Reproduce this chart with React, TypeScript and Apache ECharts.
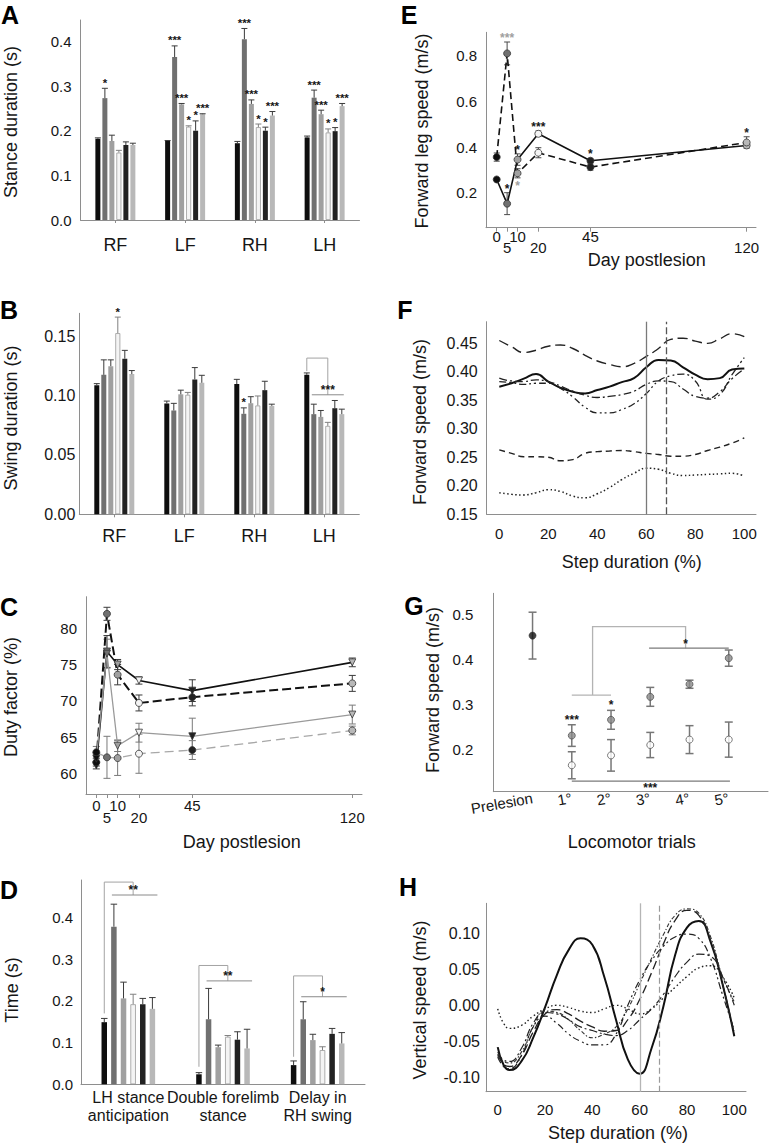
import React, { useEffect, useRef } from 'react';
import * as echarts from 'echarts';

const FONT = '"Liberation Sans", Arial, Helvetica, sans-serif';
const INK = '#161616';
const AXIS_GRAY = '#8e8e8e';

// time groups: prelesion, day 5, day 10, day 20, day 45, day 120
const timeColors = ['#0e0e0e', '#707070', '#a0a0a0', '#f4f4f4', '#222222', '#b8b8b8'];
const dayTicks = [0, 5, 10, 20, 45, 120];

// ---------- A: stance duration ----------
const limbs = ['RF', 'LF', 'RH', 'LH'];
const stanceTicks = [0, 0.1, 0.2, 0.3, 0.4];
const stanceMean = [
  [0.182, 0.177, 0.172, 0.185],
  [0.273, 0.365, 0.405, 0.274],
  [0.177, 0.259, 0.260, 0.237],
  [0.151, 0.209, 0.208, 0.196],
  [0.168, 0.200, 0.200, 0.199],
  [0.168, 0.237, 0.234, 0.255],
];
const stanceSem = [
  [0.002, 0.001, 0.004, 0.003],
  [0.022, 0.025, 0.024, 0.017],
  [0.013, 0.002, 0.009, 0.009],
  [0.005, 0.002, 0.007, 0.008],
  [0.007, 0.022, 0.008, 0.008],
  [0.004, 0.001, 0.009, 0.006],
];
const stanceStars = [
  ['', '', '', ''],
  ['*', '***', '***', '***'],
  ['', '***', '***', '***'],
  ['', '*', '*', '*'],
  ['', '*', '*', '*'],
  ['', '***', '***', '***'],
];

// ---------- B: swing duration ----------
const swingTicks = [0, 0.05, 0.1, 0.15];
const swingMean = [
  [0.1087, 0.0933, 0.1096, 0.1174],
  [0.1174, 0.0874, 0.0846, 0.0843],
  [0.1247, 0.1010, 0.0935, 0.0820],
  [0.1525, 0.1006, 0.0916, 0.0744],
  [0.1310, 0.1135, 0.1045, 0.0893],
  [0.1180, 0.1107, 0.0913, 0.0843],
];
const swingSem = [
  [0.0013, 0.0020, 0.0040, 0.0016],
  [0.0126, 0.0060, 0.0050, 0.0084],
  [0.0053, 0.0035, 0.0055, 0.0054],
  [0.0135, 0.0020, 0.0080, 0.0030],
  [0.0070, 0.0100, 0.0075, 0.0065],
  [0.0030, 0.0063, 0.0014, 0.0042],
];
const swingStars = [
  ['', '', '', ''],
  ['', '', '*', ''],
  ['', '', '', ''],
  ['*', '', '', ''],
  ['', '', '', ''],
  ['', '', '', ''],
];
const swingBrackets = [
  { cat: 3, fromBar: 0, startVal: 0.1205, topVal: 0.1315, dropBar: 3, lineVal: 0.1006, lineFromBar: 1, lineToBar: 5, stars: '***' },
];

// ---------- C: duty factor ----------
const dutyTicks = [60, 65, 70, 75, 80];
const dutyBlackSolid = [61.1, 76.8, 75.0, 72.8, 71.4, 75.3];
const dutyBlackSolidSem = [0.5, 2.2, 0.7, 0.5, 1.5, 0.6];
const dutyBlackDashed = [61.5, 82.0, 73.6, 69.7, 70.5, 72.4];
const dutyBlackDashedSem = [0.5, 0.9, 1.4, 1.1, 1.2, 1.1];
const dutyGraySolid = [62.0, 76.5, 63.8, 65.6, 65.1, 68.1];
const dutyGraySolidSem = [0.6, 2.0, 0.8, 1.3, 2.5, 1.3];
const dutyGrayDashed = [62.9, 62.2, 62.1, 62.7, 63.2, 65.9];
const dutyGrayDashedSem = [0.8, 2.9, 2.4, 2.7, 1.3, 0.6];

// ---------- D: interlimb timing ----------
const coordTasks = ['LH stance\nanticipation', 'Double forelimb\nstance', 'Delay in\nRH swing'];
const timeTicks = [0, 0.1, 0.2, 0.3, 0.4];
const coordMean = [
  [0.149, 0.024, 0.046],
  [0.378, 0.156, 0.156],
  [0.206, 0.089, 0.106],
  [0.192, 0.114, 0.082],
  [0.192, 0.107, 0.121],
  [0.181, 0.086, 0.098],
];
const coordSem = [
  [0.009, 0.004, 0.010],
  [0.054, 0.074, 0.042],
  [0.039, 0.005, 0.014],
  [0.024, 0.003, 0.008],
  [0.014, 0.019, 0.013],
  [0.027, 0.046, 0.026],
];
const coordStars = [
  ['', '', ''], ['', '', ''], ['', '', ''], ['', '', ''], ['', '', ''], ['', '', ''],
];
const coordBrackets = [
  { cat: 0, fromBar: 0, startVal: 0.170, topVal: 0.485, dropBar: 3, lineVal: 0.454, lineFromBar: 1, lineToBar: 5, stars: '**' },
  { cat: 1, fromBar: 0, startVal: 0.042, topVal: 0.285, dropBar: 3, lineVal: 0.248, lineFromBar: 1, lineToBar: 5, stars: '**' },
  { cat: 2, fromBar: 0, startVal: 0.066, topVal: 0.260, dropBar: 3, lineVal: 0.210, lineFromBar: 1, lineToBar: 5, stars: '*' },
];

// ---------- E: forward leg speed ----------
const legTicks = [0.2, 0.4, 0.6, 0.8];
const legSolid = [0.258, 0.152, 0.345, 0.458, 0.340, 0.407];
const legSolidSem = [0.004, 0.048, 0.025, 0.012, 0.010, 0.010];
const legSolidStars = ['', '*', '*', '***', '*', ''];
const legDashed = [0.356, 0.810, 0.285, 0.375, 0.312, 0.420];
const legDashedSem = [0.018, 0.050, 0.020, 0.022, 0.013, 0.025];
const legDashedStars = ['', '***', '*', '', '', '*'];
const legDashedStarBelow = [false, false, true, false, false, false];
const legDashedStarColor = ['', '#a0a0a0', '#a0a0a0', '', '', '#222222'];

// ---------- F: forward speed over step ----------
const stepTicks = [0, 20, 40, 60, 80, 100];
const fwdTicks = [0.15, 0.2, 0.25, 0.3, 0.35, 0.4, 0.45];
const fwdPct = [0, 5, 10, 15, 20, 25, 30, 35, 40, 45, 50, 55, 60, 65, 70, 75, 80, 85, 90, 95, 100];
const fwdSolid = [0.374, 0.380, 0.388, 0.396, 0.383, 0.372, 0.365, 0.362, 0.368, 0.374, 0.382, 0.389, 0.408, 0.421, 0.420, 0.408, 0.395, 0.387, 0.389, 0.404, 0.406];
const fwdLongDash = [0.455, 0.444, 0.434, 0.438, 0.445, 0.447, 0.441, 0.429, 0.419, 0.413, 0.409, 0.415, 0.427, 0.441, 0.457, 0.459, 0.454, 0.450, 0.458, 0.467, 0.462];
const fwdDashDot = [0.389, 0.384, 0.383, 0.386, 0.383, 0.375, 0.366, 0.359, 0.355, 0.357, 0.360, 0.366, 0.378, 0.384, 0.383, 0.370, 0.357, 0.354, 0.365, 0.388, 0.405];
const fwdDashDotDot = [0.383, 0.381, 0.378, 0.380, 0.380, 0.371, 0.356, 0.338, 0.328, 0.328, 0.334, 0.344, 0.362, 0.384, 0.393, 0.396, 0.384, 0.352, 0.360, 0.395, 0.425];
const fwdDashed = [0.263, 0.257, 0.251, 0.251, 0.250, 0.244, 0.246, 0.257, 0.260, 0.261, 0.262, 0.260, 0.257, 0.255, 0.252, 0.252, 0.255, 0.262, 0.268, 0.275, 0.284];
const fwdDotted = [0.188, 0.185, 0.184, 0.188, 0.193, 0.190, 0.182, 0.179, 0.186, 0.197, 0.211, 0.222, 0.231, 0.229, 0.222, 0.218, 0.219, 0.220, 0.221, 0.222, 0.217];
const phaseMarks = [60, 68];

// ---------- G: locomotor trials ----------
const trials = ['Prelesion', '1°', '2°', '3°', '4°', '5°'];
const trialTicks = [0, 1, 2, 3, 4, 5];
const trialSpeedTicks = [0.2, 0.3, 0.4, 0.5];
const prelesionSpeed = [0.454];
const prelesionSem = [0.052];
const trialsX = [1, 2, 3, 4, 5];
const trialGray = [0.232, 0.267, 0.318, 0.346, 0.404];
const trialGraySem = [0.024, 0.021, 0.021, 0.009, 0.018];
const trialGrayStars = ['***', '*', '', '', ''];
const trialWhite = [0.166, 0.188, 0.211, 0.223, 0.223];
const trialWhiteSem = [0.030, 0.035, 0.028, 0.031, 0.039];
const trialBracketPath = [[1.53, 0.322], [1.53, 0.474], [3.9, 0.474], [3.9, 0.426]];
const trialBracketBars = [[1, 2, 0.322], [2.97, 5, 0.426], [1, 5.03, 0.131]];
const trialBracketStars: any[] = [[3.9, 0.426, '*', 'above'], [3.0, 0.131, '***', 'below']];

// ---------- H: vertical speed over step ----------
const vertTicks = [-0.1, -0.05, 0, 0.05, 0.1];
const vertPct = [0, 2.5, 5, 10, 15, 20, 25, 30, 35, 40, 45, 50, 55, 60, 65, 70, 75, 80, 85, 90, 95, 100];
const vertSolid = [-0.058, -0.083, -0.090, -0.078, -0.045, -0.003, 0.042, 0.077, 0.093, 0.084, 0.040, -0.020, -0.075, -0.095, -0.060, -0.002, 0.070, 0.108, 0.117, 0.088, 0.030, -0.043];
const vertLongDash = [-0.068, -0.082, -0.085, -0.070, -0.037, -0.012, -0.006, -0.012, -0.022, -0.030, -0.036, -0.035, -0.020, 0.008, 0.045, 0.085, 0.118, 0.132, 0.125, 0.090, 0.030, -0.040];
const vertFineDash = [-0.070, -0.078, -0.080, -0.065, -0.030, -0.008, -0.010, -0.020, -0.035, -0.045, -0.040, -0.030, -0.005, 0.030, 0.065, 0.098, 0.125, 0.134, 0.128, 0.095, 0.040, 0.005];
const vertDashDotDot = [-0.072, -0.085, -0.088, -0.070, -0.030, -0.015, -0.025, -0.040, -0.050, -0.055, -0.055, -0.040, 0.000, 0.035, 0.062, 0.082, 0.095, 0.099, 0.093, 0.065, 0.015, -0.035];
const vertDashDot = [-0.065, -0.076, -0.078, -0.060, -0.025, -0.010, -0.012, -0.020, -0.030, -0.035, -0.040, -0.042, -0.035, -0.020, -0.005, 0.015, 0.040, 0.060, 0.071, 0.068, 0.040, 0.000];
const vertDotted = [-0.005, -0.025, -0.032, -0.028, -0.015, -0.005, 0.000, -0.003, -0.008, -0.010, -0.005, 0.000, -0.005, -0.012, -0.005, 0.010, 0.025, 0.040, 0.052, 0.055, 0.040, 0.010];

// ---------- layout ----------
const grids = [
  { left: 80.5, top: 20, width: 279, height: 200 },
  { left: 79.3, top: 313.3, width: 280, height: 201 },
  { left: 86, top: 596.7, width: 276, height: 197.3 },
  { left: 81, top: 880, width: 284, height: 204.3 },
  { left: 486, top: 32.3, width: 270, height: 195.4 },
  { left: 486.7, top: 321.7, width: 269.3, height: 192.6 },
  { left: 493.3, top: 593.3, width: 274.7, height: 198.4 },
  { left: 486, top: 903.3, width: 260, height: 188.4 },
];

const BAR_AB = { width: 5, gap: '40%', slot: 7, starGap: 1.5, overhang: 2 };
const BAR_D = { width: 5.5, gap: '75%', slot: 9.625, starGap: 1.5, overhang: 5 };

const txtStyle = (text: string, size: number, color = INK, weight = 'normal') => ({
  text, fill: color, fontSize: size, fontWeight: weight, fontFamily: FONT,
  textAlign: 'center', textVerticalAlign: 'middle', align: 'center', verticalAlign: 'middle',
});

const starText = (text: string, x: number, y: number, size = 12, color = INK) => ({
  type: 'text', x, y, silent: true, style: txtStyle(text, size, color, 'bold'),
});

function barSeries(idx: number, means: number[][], sems: number[][], stars: string[][], cfg: any) {
  const list: any[] = [];
  means.forEach((row, i) => {
    list.push({
      type: 'bar', xAxisIndex: idx, yAxisIndex: idx, data: row, barWidth: cfg.width, barGap: cfg.gap,
      silent: true, z: 2,
      itemStyle: {
        color: timeColors[i],
        borderColor: i === 3 ? '#9a9a9a' : timeColors[i],
        borderWidth: i === 3 ? 0.8 : 0,
      },
    });
  });
  means.forEach((row, i) => {
    list.push({
      type: 'custom', xAxisIndex: idx, yAxisIndex: idx, z: 4, silent: true,
      encode: { x: 0, y: 1 },
      data: row.map((v, c) => [c, v, sems[i][c]]),
      renderItem: (params: any, api: any) => {
        const c = api.value(0);
        const v = api.value(1);
        const s = api.value(2);
        const base = api.coord([c, v]);
        const top = api.coord([c, v + s]);
        const x = base[0] + (i - 2.5) * cfg.slot;
        const stroke = i === 3 ? '#808080' : '#3a3a3a';
        const kids: any[] = [
          { type: 'line', shape: { x1: x, y1: base[1], x2: x, y2: top[1] }, style: { stroke, lineWidth: 1 } },
          { type: 'line', shape: { x1: x - cfg.width / 2 - 0.5, y1: top[1], x2: x + cfg.width / 2 + 0.5, y2: top[1] }, style: { stroke, lineWidth: 1 } },
        ];
        const st = stars[i][params.dataIndex];
        if (st) kids.push(starText(st, x, top[1] - 4 - cfg.starGap, 11.5));
        return { type: 'group', children: kids };
      },
    });
  });
  return list;
}

function bracketSeries(idx: number, brackets: any[], cfg: any) {
  return {
    type: 'custom', xAxisIndex: idx, yAxisIndex: idx, z: 6, silent: true,
    encode: { x: 0, y: 1 },
    data: brackets.map((b) => [b.cat, b.topVal]),
    renderItem: (params: any, api: any) => {
      const b = brackets[params.dataIndex];
      const cx = api.coord([b.cat, b.topVal])[0];
      const yS = api.coord([b.cat, b.startVal])[1];
      const yT = api.coord([b.cat, b.topVal])[1];
      const yL = api.coord([b.cat, b.lineVal])[1];
      const off = (k: number) => cx + (k - 2.5) * cfg.slot;
      const xF = off(b.fromBar);
      const xD = off(b.dropBar);
      return {
        type: 'group',
        children: [
          { type: 'polyline', shape: { points: [[xF, yS], [xF, yT], [xD, yT], [xD, yL]] }, style: { stroke: '#a3a3a3', fill: null, lineWidth: 1 } },
          { type: 'line', shape: { x1: off(b.lineFromBar) - 2, y1: yL, x2: off(b.lineToBar) + cfg.overhang, y2: yL }, style: { stroke: '#8a8a8a', lineWidth: 1 } },
          starText(b.stars, xD, yL - 5, 12),
        ],
      };
    },
  };
}

function errBars(idx: number, xs: number[], vals: number[], sems: number[], color: string, cap: number, width = 1) {
  return {
    type: 'custom', xAxisIndex: idx, yAxisIndex: idx, z: 2, silent: true,
    encode: { x: 0, y: 1 },
    data: xs.map((x, j) => [x, vals[j], sems[j]]),
    renderItem: (params: any, api: any) => {
      const x = api.value(0);
      const v = api.value(1);
      const s = api.value(2);
      const lo = api.coord([x, v - s]);
      const hi = api.coord([x, v + s]);
      const st = { stroke: color, lineWidth: width };
      return {
        type: 'group',
        children: [
          { type: 'line', shape: { x1: lo[0], y1: lo[1], x2: hi[0], y2: hi[1] }, style: st },
          { type: 'line', shape: { x1: lo[0] - cap / 2, y1: lo[1], x2: lo[0] + cap / 2, y2: lo[1] }, style: st },
          { type: 'line', shape: { x1: hi[0] - cap / 2, y1: hi[1], x2: hi[0] + cap / 2, y2: hi[1] }, style: st },
        ],
      };
    },
  };
}

function starMarks(idx: number, xs: number[], vals: number[], sems: number[], stars: string[], below: boolean[], colors: string[], gap: number) {
  return {
    type: 'custom', xAxisIndex: idx, yAxisIndex: idx, z: 7, silent: true,
    encode: { x: 0, y: 1 },
    data: xs.map((x, j) => [x, vals[j], sems[j]]),
    renderItem: (params: any, api: any) => {
      const j = params.dataIndex;
      if (!stars[j]) return { type: 'group', children: [] };
      const x = api.value(0);
      const v = api.value(1);
      const s = api.value(2);
      if (below[j]) {
        const p = api.coord([x, v - s]);
        return starText(stars[j], p[0], p[1] + gap + 4, 12, colors[j] || INK);
      }
      const p = api.coord([x, v + s]);
      return starText(stars[j], p[0], p[1] - gap, 12, colors[j] || INK);
    },
  };
}

function lineWithMarkers(idx: number, xs: number[], vals: number[], st: any) {
  return {
    type: 'line', xAxisIndex: idx, yAxisIndex: idx, z: 4, silent: true,
    symbol: st.symbol, symbolRotate: st.rotate, symbolSize: st.size, showSymbol: true,
    lineStyle: { color: st.color, width: st.width, type: st.dash },
    data: xs.map((x, j) => ({
      value: [x, vals[j]],
      itemStyle: { color: timeColors[j], borderColor: '#333333', borderWidth: 0.8 },
    })),
  };
}

function curve(idx: number, xs: number[], vals: number[], st: any, extra: any = {}) {
  return {
    type: 'line', xAxisIndex: idx, yAxisIndex: idx, z: 3, silent: true,
    symbol: 'none', showSymbol: false, smooth: 0.5,
    lineStyle: { color: st.color, width: st.width, type: st.dash },
    data: xs.map((x, j) => [x, vals[j]]),
    ...extra,
  };
}

function valueY(idx: number, min: number, max: number, ticks: number[], digits: number, margin: number, size: number) {
  return {
    type: 'value', gridIndex: idx, min, max,
    axisLine: { show: true, onZero: false, lineStyle: { color: AXIS_GRAY, width: 1 } },
    axisTick: { show: false },
    splitLine: { show: false },
    axisLabel: {
      color: INK, fontSize: size, fontFamily: FONT, margin,
      customValues: ticks,
      formatter: (v: number) => v.toFixed(digits),
    },
  };
}

function catX(idx: number, cats: string[], size: number, margin: number, ticks: boolean, lineHeight?: number) {
  return {
    type: 'category', gridIndex: idx, data: cats,
    axisLine: { show: true, onZero: false, lineStyle: { color: AXIS_GRAY, width: 1 } },
    axisTick: { show: ticks, alignWithLabel: true, length: 3, lineStyle: { color: AXIS_GRAY } },
    splitLine: { show: false },
    axisLabel: { color: INK, fontSize: size, fontFamily: FONT, margin, interval: 0, lineHeight },
  };
}

function dayX(idx: number, min: number, max: number, margin: number, lineHeight: number) {
  return {
    type: 'value', gridIndex: idx, min, max,
    axisLine: { show: true, onZero: false, lineStyle: { color: AXIS_GRAY, width: 1 } },
    axisTick: { show: true, length: 4, customValues: dayTicks, lineStyle: { color: AXIS_GRAY } },
    splitLine: { show: false },
    axisLabel: {
      color: INK, fontSize: 15, fontFamily: FONT, margin, lineHeight,
      customValues: dayTicks,
      formatter: (v: number) => {
        const k = dayTicks.indexOf(v);
        return k % 2 === 1 ? '\n' + v : String(v);
      },
    },
  };
}

function pctX(idx: number, min: number, max: number, margin: number) {
  return {
    type: 'value', gridIndex: idx, min, max,
    axisLine: { show: true, onZero: false, lineStyle: { color: AXIS_GRAY, width: 1 } },
    axisTick: { show: false },
    splitLine: { show: false },
    axisLabel: {
      color: INK, fontSize: 15, fontFamily: FONT, margin,
      customValues: stepTicks,
      formatter: (v: number) => String(v),
    },
  };
}

function buildOption() {
  const dutyStyles = [
    { symbol: 'triangle', rotate: 180, size: 7, color: '#111111', width: 1.6, dash: 'solid' },
    { symbol: 'circle', rotate: 0, size: 7, color: '#111111', width: 2, dash: [9, 4] },
    { symbol: 'triangle', rotate: 180, size: 7, color: '#9a9a9a', width: 1.3, dash: 'solid' },
    { symbol: 'circle', rotate: 0, size: 7, color: '#a8a8a8', width: 1.3, dash: [9, 5] },
  ];
  const dutyVals = [dutyBlackSolid, dutyBlackDashed, dutyGraySolid, dutyGrayDashed];
  const dutySems = [dutyBlackSolidSem, dutyBlackDashedSem, dutyGraySolidSem, dutyGrayDashedSem];
  const dutyErrColors = ['#3a3a3a', '#3a3a3a', '#7a7a7a', '#7a7a7a'];

  const fwdCurves = [fwdSolid, fwdLongDash, fwdDashDot, fwdDashDotDot, fwdDashed, fwdDotted];
  const fwdStyles = [
    { color: '#111111', width: 2, dash: 'solid' },
    { color: '#222222', width: 1.4, dash: [10, 5] },
    { color: '#222222', width: 1.3, dash: [8, 3, 2, 3] },
    { color: '#222222', width: 1.3, dash: [7, 3, 2, 3, 2, 3] },
    { color: '#222222', width: 1.4, dash: [6, 4] },
    { color: '#222222', width: 1.5, dash: [1.5, 2.5] },
  ];
  const vertCurves = [vertSolid, vertLongDash, vertFineDash, vertDashDotDot, vertDashDot, vertDotted];
  const vertStyles = [
    { color: '#111111', width: 2, dash: 'solid' },
    { color: '#222222', width: 1.3, dash: [9, 4] },
    { color: '#333333', width: 1.1, dash: [4, 2, 1.5, 2] },
    { color: '#222222', width: 1.2, dash: [7, 3, 2, 3, 2, 3] },
    { color: '#222222', width: 1.2, dash: [8, 3, 2, 3] },
    { color: '#222222', width: 1.4, dash: [1.5, 2.5] },
  ];

  const series: any[] = [];
  // A
  series.push(...barSeries(0, stanceMean, stanceSem, stanceStars, BAR_AB));
  // B
  series.push(...barSeries(1, swingMean, swingSem, swingStars, BAR_AB));
  series.push(bracketSeries(1, swingBrackets, BAR_AB));
  // C
  dutyVals.forEach((vals, k) => {
    series.push(errBars(2, dayTicks, vals, dutySems[k], dutyErrColors[k], 7, 1));
  });
  dutyVals.forEach((vals, k) => {
    series.push(lineWithMarkers(2, dayTicks, vals, dutyStyles[k]));
  });
  // D
  series.push(...barSeries(3, coordMean, coordSem, coordStars, BAR_D));
  series.push(bracketSeries(3, coordBrackets, BAR_D));
  // E
  series.push(errBars(4, dayTicks, legSolid, legSolidSem, '#4a4a4a', 6, 1));
  series.push(errBars(4, dayTicks, legDashed, legDashedSem, '#4a4a4a', 6, 1));
  series.push(lineWithMarkers(4, dayTicks, legSolid, { symbol: 'circle', rotate: 0, size: 7, color: '#111111', width: 1.6, dash: 'solid' }));
  series.push(lineWithMarkers(4, dayTicks, legDashed, { symbol: 'circle', rotate: 0, size: 7, color: '#111111', width: 1.6, dash: [7, 4] }));
  series.push(starMarks(4, dayTicks, legSolid, legSolidSem, legSolidStars, [false, false, false, false, false, false], ['', '', '', '', '', ''], 4));
  series.push(starMarks(4, dayTicks, legDashed, legDashedSem, legDashedStars, legDashedStarBelow, legDashedStarColor, 4));
  // F
  fwdCurves.forEach((vals, k) => {
    const extra = k === 0 ? {
      markLine: {
        silent: true, symbol: 'none', label: { show: false }, animation: false,
        data: [
          { xAxis: phaseMarks[0], lineStyle: { color: '#7a7a7a', type: 'solid', width: 1.3 } },
          { xAxis: phaseMarks[1], lineStyle: { color: '#555555', type: [7, 3], width: 1.3 } },
        ],
      },
    } : {};
    series.push(curve(5, fwdPct, vals, fwdStyles[k], extra));
  });
  // G
  series.push(errBars(6, [0], prelesionSpeed, prelesionSem, '#777777', 8, 1.5));
  series.push(errBars(6, trialsX, trialGray, trialGraySem, '#777777', 8, 1.5));
  series.push(errBars(6, trialsX, trialWhite, trialWhiteSem, '#777777', 8, 1.5));
  series.push({
    type: 'scatter', xAxisIndex: 6, yAxisIndex: 6, z: 4, silent: true, symbolSize: 7,
    itemStyle: { color: '#111111', borderColor: '#333333', borderWidth: 0.8 },
    data: prelesionSpeed.map((v) => [0, v]),
  });
  series.push({
    type: 'scatter', xAxisIndex: 6, yAxisIndex: 6, z: 4, silent: true, symbolSize: 7,
    itemStyle: { color: '#8a8a8a', borderColor: '#4a4a4a', borderWidth: 0.9 },
    data: trialsX.map((x, j) => [x, trialGray[j]]),
  });
  series.push({
    type: 'scatter', xAxisIndex: 6, yAxisIndex: 6, z: 4, silent: true, symbolSize: 7,
    itemStyle: { color: '#ffffff', borderColor: '#4a4a4a', borderWidth: 0.9 },
    data: trialsX.map((x, j) => [x, trialWhite[j]]),
  });
  series.push(starMarks(6, trialsX, trialGray, trialGraySem, trialGrayStars, [false, false, false, false, false], ['', '', '', '', ''], 5));
  series.push({
    type: 'custom', xAxisIndex: 6, yAxisIndex: 6, z: 6, silent: true,
    encode: { x: 0, y: 1 },
    data: [[trialBracketPath[0][0], trialBracketPath[0][1]]],
    renderItem: (params: any, api: any) => {
      const pts = trialBracketPath.map((p) => api.coord(p));
      const kids: any[] = [
        { type: 'polyline', shape: { points: pts }, style: { stroke: '#b3b3b3', fill: null, lineWidth: 1.3 } },
      ];
      trialBracketBars.forEach((b, k) => {
        const a = api.coord([b[0], b[2]]);
        const c = api.coord([b[1], b[2]]);
        kids.push({ type: 'line', shape: { x1: a[0], y1: a[1], x2: c[0], y2: c[1] }, style: { stroke: k === 0 ? '#b3b3b3' : '#7a7a7a', lineWidth: 1.2 } });
      });
      trialBracketStars.forEach((s) => {
        const p = api.coord([s[0], s[1]]);
        kids.push(starText(s[2], p[0], s[3] === 'below' ? p[1] + 7 : p[1] - 4, 12));
      });
      return { type: 'group', children: kids };
    },
  });
  // H
  vertCurves.forEach((vals, k) => {
    const extra = k === 0 ? {
      markLine: {
        silent: true, symbol: 'none', label: { show: false }, animation: false,
        data: [
          { xAxis: phaseMarks[0] + 0.2, lineStyle: { color: '#b5b5b5', type: 'solid', width: 1.3 } },
          { xAxis: phaseMarks[1] + 0.3, lineStyle: { color: '#9a9a9a', type: [6, 3], width: 1.2 } },
        ],
      },
    } : {};
    series.push(curve(7, vertPct, vals, vertStyles[k], extra));
  });

  const title = (text: string, x: number, y: number, rotated: boolean) => ({
    type: 'text', x, y, rotation: rotated ? Math.PI / 2 : 0, silent: true,
    style: txtStyle(text, 18),
  });
  const letter = (text: string, x: number, y: number) => ({
    type: 'text', x, y, silent: true, style: txtStyle(text, 25, '#000000', 'bold'),
  });

  const graphics = [
    letter('A', 10, 15), letter('B', 9, 310), letter('C', 9, 607), letter('D', 9, 890),
    letter('E', 409, 15), letter('F', 405, 310), letter('G', 414, 606), letter('H', 408, 887),
    title('Stance duration (s)', 11, 122, true),
    title('Swing duration (s)', 11, 418, true),
    title('Duty factor (%)', 11, 697, true),
    title('Day postlesion', 241.7, 841.7, false),
    title('Time (s)', 12, 990, true),
    title('Forward leg speed (m/s)', 422, 131, true),
    title('Day postlesion', 646.7, 260, false),
    title('Forward speed (m/s)', 420, 422, true),
    title('Step duration (%)', 631.7, 561.7, false),
    title('Forward speed (m/s)', 433, 690, true),
    title('Locomotor trials', 631.7, 841.7, false),
    title('Vertical speed (m/s)', 420, 1000, true),
    title('Step duration (%)', 618, 1133.3, false),
  ];

  return {
    animation: false,
    backgroundColor: '#ffffff',
    textStyle: { fontFamily: FONT },
    grid: grids.map((g) => ({ ...g, containLabel: false, outerBoundsMode: 'none', show: false })),
    xAxis: [
      catX(0, limbs, 18, 16, true),
      catX(1, limbs, 18, 13, true),
      dayX(2, -4.83, 124.55, 5, 12),
      catX(3, coordTasks, 16, 4, false, 18),
      dayX(4, -5.14, 124.5, 3, 11),
      pctX(5, -5.14, 104.78, 12),
      {
        type: 'value', gridIndex: 6, min: -1, max: 6,
        axisLine: { show: true, onZero: false, lineStyle: { color: AXIS_GRAY, width: 1 } },
        axisTick: { show: false },
        splitLine: { show: false },
        axisLabel: {
          color: INK, fontSize: 15, fontFamily: FONT, margin: 6, rotate: 10,
          customValues: trialTicks,
          formatter: (v: number) => trials[Math.round(v)] || '',
        },
      },
      pctX(7, -4.95, 104.95, 10),
    ],
    yAxis: [
      valueY(0, 0, 0.448, stanceTicks, 1, 9, 15),
      valueY(1, 0, 0.1692, swingTicks, 2, 4, 16),
      valueY(2, 57.14, 84.36, dutyTicks, 0, 9, 15),
      valueY(3, 0, 0.49, timeTicks, 1, 8, 15),
      valueY(4, 0.0467, 0.9025, legTicks, 1, 9, 15),
      valueY(5, 0.15, 0.488, fwdTicks, 2, 9, 16),
      valueY(6, 0.1073, 0.548, trialSpeedTicks, 1, 20, 15),
      valueY(7, -0.12, 0.1417, vertTicks, 2, 6, 16),
    ],
    series,
    graphic: { elements: graphics },
  };
}

export default function App() {
  const ref = useRef<HTMLDivElement>(null);
  useEffect(() => {
    document.body.style.margin = '0';
    const chart = echarts.init(ref.current as HTMLDivElement, undefined, { renderer: 'svg', width: 771, height: 1143 });
    chart.setOption(buildOption() as any);
    return () => chart.dispose();
  }, []);
  return <div ref={ref} style={{ width: 771, height: 1143, background: '#ffffff' }} />;
}
